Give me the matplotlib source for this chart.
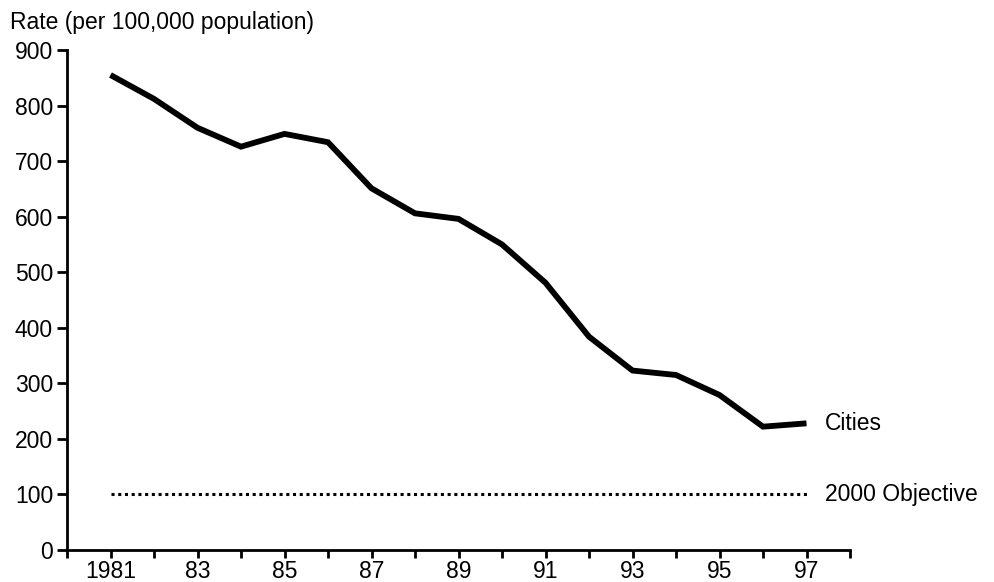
import numpy as np
import matplotlib.pyplot as plt
from matplotlib.ticker import MultipleLocator

# Rate per 100,000 population, cities
years = [1981, 1982, 1983, 1984, 1985, 1986, 1987, 1988, 1989,
         1990, 1991, 1992, 1993, 1994, 1995, 1996, 1997]
cities_rate = [855, 812, 760, 726, 749, 734, 651, 606, 596,
               550, 481, 384, 323, 315, 279, 222, 228]
objective_rate = 100
ytick_values = [0, 100, 200, 300, 400, 500, 600, 700, 800, 900]
xtick_years = [1981, 1983, 1985, 1987, 1989, 1991, 1993, 1995, 1997]
xtick_labels = ["1981", "83", "85", "87", "89", "91", "93", "95", "97"]

plt.rcParams['font.family'] = ['Liberation Sans', 'DejaVu Sans']
FS = 16.5

fig = plt.figure(figsize=(9.95, 5.82), dpi=100)
ax = fig.add_axes([67 / 995, 32 / 582, (850 - 67) / 995, (550 - 50) / 582])

ax.plot(years, cities_rate, color='black', linewidth=4.2,
        solid_joinstyle='miter', solid_capstyle='butt')
ax.plot([years[0], years[-1]], [objective_rate, objective_rate],
        color='black', linewidth=2.2, linestyle=(0, (1, 1.2)))

ax.set_xlim(1980, 1998)
ax.set_ylim(0, 900)
ax.set_xticks(xtick_years)
ax.set_xticklabels(xtick_labels)
ax.xaxis.set_minor_locator(MultipleLocator(1))
ax.set_yticks(ytick_values)

for side in ('top', 'right'):
    ax.spines[side].set_visible(False)
for side in ('left', 'bottom'):
    ax.spines[side].set_linewidth(2)

ax.tick_params(axis='both', which='both', direction='out', width=2,
               labelsize=FS, colors='black')
ax.tick_params(axis='x', which='both', length=6, pad=1)
ax.tick_params(axis='y', which='major', length=7, pad=3)

ax.text(1997.42, cities_rate[-1], "Cities", fontsize=FS, va='center', ha='left')
ax.text(1997.42, objective_rate, "2000 Objective", fontsize=FS,
        va='center', ha='left')

fig.text(10 / 995, 1 - 22 / 582, "Rate (per 100,000 population)",
         fontsize=FS, va='center', ha='left')

fig.savefig("out.png", dpi=100)
